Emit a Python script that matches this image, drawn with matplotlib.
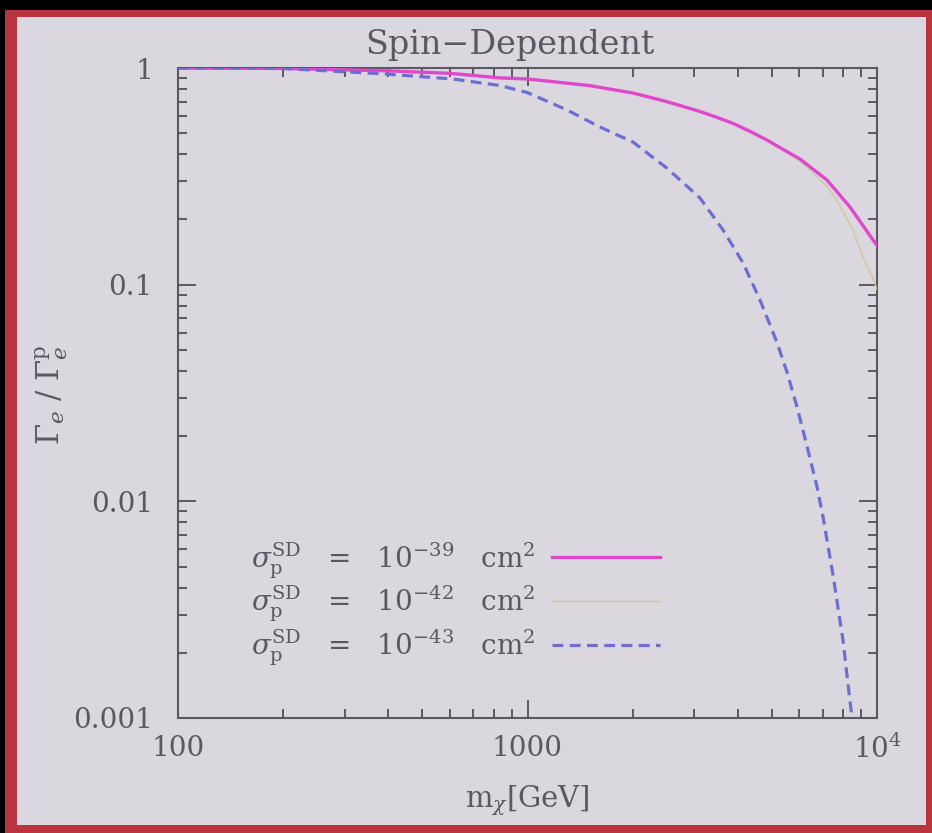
import matplotlib

matplotlib.use("Agg")
import matplotlib.pyplot as plt
from matplotlib.patches import Rectangle
from matplotlib.ticker import FixedLocator, LogLocator, NullFormatter

# ratio curves for three spin-dependent cross sections
MASS_39 = [100, 200, 400, 600, 834, 1000, 1500, 2000, 2500, 3116, 3500, 3873, 4333,
           4843, 5400, 6020, 7194, 8374, 9869, 10000]
RATIO_39 = [1.0, 0.995, 0.97, 0.945, 0.90, 0.89, 0.83, 0.767, 0.70, 0.63, 0.59, 0.555,
            0.51, 0.465, 0.42, 0.38, 0.304, 0.228, 0.156, 0.152]

MASS_42 = [100, 200, 400, 600, 834, 1000, 1500, 2000, 2500, 3116, 3500, 3873, 4333,
           4843, 5400, 6020, 7194, 7685, 8536, 9357, 9778, 10000]
RATIO_42 = [1.0, 0.995, 0.97, 0.945, 0.90, 0.89, 0.83, 0.767, 0.70, 0.63, 0.59, 0.555,
            0.51, 0.465, 0.418, 0.372, 0.285, 0.245, 0.178, 0.121, 0.105, 0.095]

MASS_43 = [100, 200, 385, 610, 834, 1000, 1297, 1612, 2004, 2506, 3116, 3626, 4137,
           4627, 5176, 5527, 5902, 6305, 6733, 7005, 7480, 7992, 8318, 8483, 8600]
RATIO_43 = [1.0, 0.995, 0.94, 0.89, 0.83, 0.77, 0.64, 0.534, 0.455, 0.345, 0.251,
            0.179, 0.126, 0.085, 0.054, 0.0395, 0.0273, 0.018, 0.0117, 0.0085,
            0.0046, 0.00229, 0.0013, 0.001, 0.0007]

LABELS = [
    r"$\sigma_{\rm p}^{\rm SD}$   =   10$^{-39}$   cm$^2$",
    r"$\sigma_{\rm p}^{\rm SD}$   =   10$^{-42}$   cm$^2$",
    r"$\sigma_{\rm p}^{\rm SD}$   =   10$^{-43}$   cm$^2$",
]

X_TICKS = [100, 1000, 10000]
X_TICK_LABELS = ["100", "1000", r"$10^4$"]
Y_TICKS = [0.001, 0.01, 0.1, 1]
Y_TICK_LABELS = ["0.001", "0.01", "0.1", "1"]

BG = "#dbd7df"
FRAME = "#b83540"
INK = "#5c5862"
MAGENTA = "#e048cc"
KHAKI = "#cfc79a"
BLUE = "#6e6ed2"

plt.rcParams["font.family"] = "DejaVu Serif"
plt.rcParams["mathtext.fontset"] = "dejavuserif"

W, H = 932, 833
fig = plt.figure(figsize=(W / 100, H / 100), dpi=100, facecolor="black")

# red slide frame and light inner panel, kept behind the axes
fig.patches.append(Rectangle((5 / W, 0), 1 - 5 / W, 1 - 10 / H, transform=fig.transFigure,
                             facecolor=FRAME, edgecolor="none", zorder=-10))
fig.patches.append(Rectangle((17 / W, 8 / H), (926 - 17) / W, (825 - 17) / H,
                             transform=fig.transFigure, facecolor=BG, edgecolor="none",
                             zorder=-9))

ax = fig.add_axes([178 / W, (H - 718) / H, (877 - 178) / W, (718 - 68) / H])
ax.set_zorder(2)
ax.set_facecolor(BG)
ax.set_xscale("log")
ax.set_yscale("log")
ax.set_xlim(100, 10000)
ax.set_ylim(0.001, 1)

ax.plot(MASS_42, RATIO_42, color=KHAKI, lw=1.0, label=LABELS[1], zorder=3)
ax.plot(MASS_39, RATIO_39, color=MAGENTA, lw=2.4, label=LABELS[0], zorder=4)
ax.plot(MASS_43, RATIO_43, color=BLUE, lw=2.3, dashes=(3.4, 2.0), label=LABELS[2], zorder=5)

for side in ax.spines.values():
    side.set_color(INK)
    side.set_linewidth(1.5)

ax.xaxis.set_major_locator(FixedLocator(X_TICKS))
ax.set_xticklabels(X_TICK_LABELS)
ax.yaxis.set_major_locator(FixedLocator(Y_TICKS))
ax.set_yticklabels(Y_TICK_LABELS)
ax.xaxis.set_minor_locator(LogLocator(base=10, subs=range(2, 10)))
ax.yaxis.set_minor_locator(LogLocator(base=10, subs=range(2, 10)))
ax.xaxis.set_minor_formatter(NullFormatter())
ax.yaxis.set_minor_formatter(NullFormatter())

ax.tick_params(which="both", direction="in", top=True, right=True, color=INK,
               labelcolor=INK, labelsize=20, width=1.4)
ax.tick_params(which="major", length=13)
ax.tick_params(which="minor", length=6.5)
ax.tick_params(axis="y", pad=18)
ax.tick_params(axis="x", pad=12)

ax.set_xlabel(r"m$_\chi$[GeV]", fontsize=21, color=INK, labelpad=14)
ax.set_ylabel(r"$\Gamma_e\ /\ \Gamma_e^{\rm p}$", fontsize=22, color=INK)
ax.yaxis.set_label_coords(-0.155, 0.497)
fig.text(510 / W, 1 - 45 / H, "Spin\u2212Dependent", ha="center", va="center",
         fontsize=24, color=INK)

handles, labels = ax.get_legend_handles_labels()
order = [1, 0, 2]
leg = ax.legend([handles[i] for i in order], [labels[i] for i in order],
                loc="center left", bbox_to_anchor=(0.068, 0.175), frameon=False,
                markerfirst=False, fontsize=20, handlelength=3.9, handletextpad=0.6,
                labelspacing=0.12, labelcolor=INK)

fig.savefig("out.png", dpi=100, facecolor=fig.get_facecolor())
